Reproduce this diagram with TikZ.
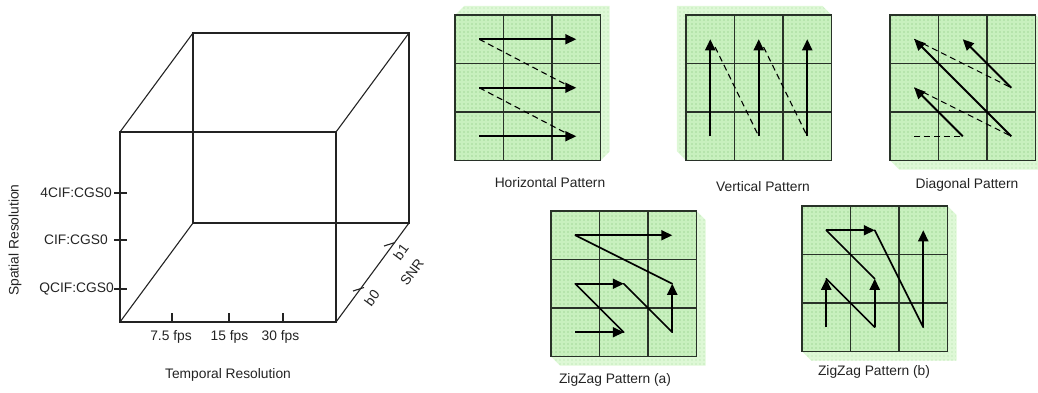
\documentclass[tikz,border=0pt]{standalone}
\usepackage{fontspec}
\setmainfont{Liberation Sans}
\usetikzlibrary{positioning,arrows.meta,patterns,calc}
\definecolor{cellgreen}{RGB}{200,240,190}
\definecolor{dotgreen}{RGB}{125,190,115}
\definecolor{shadegreen}{RGB}{222,248,214}
\definecolor{shadedot}{RGB}{170,220,160}
\definecolor{gridgray}{RGB}{40,50,40}
\definecolor{inkgray}{RGB}{35,35,35}
\pgfdeclarepatternformonly{greendots}{\pgfqpoint{-1pt}{-1pt}}{\pgfqpoint{1pt}{1pt}}{\pgfqpoint{4pt}{4pt}}{%
  \pgfpathcircle{\pgfqpoint{0pt}{0pt}}{0.65pt}\pgfusepath{fill}}
\tikzset{
  cube-edge/.style={draw=inkgray, line width=1.1pt},
  axis-tick/.style={draw=inkgray, line width=1.1pt},
  axis-label/.style={font=\fontsize{13.8}{16}\selectfont, text=inkgray, inner sep=1pt},
  pattern-title/.style={font=\fontsize{13.8}{16}\selectfont, text=inkgray, inner sep=1pt},
  cell-fill/.style={fill=cellgreen},
  cell-dots/.style={pattern=greendots, pattern color=dotgreen},
  shade-fill/.style={fill=shadegreen},
  shade-dots/.style={pattern=greendots, pattern color=shadedot},
  grid-line/.style={draw=gridgray, line width=1.5pt},
  scan-arrow/.style={-{Triangle[length=11pt, width=10pt]}, line width=2pt, draw=black},
  scan-jump/.style={dash pattern=on 6pt off 4pt, line width=1.1pt, draw=black},
  zig-line/.style={line width=1.7pt, draw=black, line cap=round}
}
% 3x3 block of cells, centres named <prefix>-<col>-<row>
\newcommand{\scangrid}[1]{%
  \fill[cell-fill] (0,0) rectangle (3,3);
  \fill[cell-dots] (0,0) rectangle (3,3);
  \foreach \k in {1,2} {
    \draw[grid-line] (\k,0) -- (\k,3);
    \draw[grid-line] (0,\k) -- (3,\k);
  }
  \draw[grid-line] (0,0) rectangle (3,3);
  \foreach \i in {0,1,2} \foreach \j in {0,1,2} \coordinate (#1-\i-\j) at (\i+.5,\j+.5);
}

\begin{document}
\begin{tikzpicture}[x=1pt, y=-1pt]
\useasboundingbox (0,0) rectangle (1038,392);

% Scalability cube
\coordinate (f-tl) at (120,132);
\coordinate (f-tr) at (336,132);
\coordinate (f-br) at (336,322);
\coordinate (f-bl) at (120,322);
\coordinate (b-tl) at (193,33);
\coordinate (b-tr) at (409,33);
\coordinate (b-br) at (409,223);
\coordinate (b-bl) at (193,223);
\draw[cube-edge] (b-tl) rectangle (b-br);
\draw[cube-edge] (f-tl) rectangle (f-br);
\draw[cube-edge] (f-tl) -- (b-tl);
\draw[cube-edge] (f-tr) -- (b-tr);
\draw[cube-edge] (f-br) -- (b-br);
\draw[cube-edge] (f-bl) -- (b-bl);

% spatial axis
\foreach \y/\xe/\id/\lbl in {193/113/fourcif/4CIF:CGS0, 240/109/cif/CIF:CGS0, 289/115/qcif/QCIF:CGS0} {
  \draw[axis-tick] (114,\y) -- (127,\y);
  \node[axis-label, anchor=east] (\id) at (\xe,\y) {\lbl};
}
\node[axis-label, rotate=90] (spatial) at (15,240) {Spatial Resolution};

% temporal axis
\foreach \x/\xl/\id/\lbl in {172/171/fps-a/7.5 fps, 229/229.5/fps-b/15 fps, 283/280.5/fps-c/30 fps} {
  \draw[axis-tick] (\x,313) -- (\x,322);
  \node[axis-label] (\id) at (\xl,337) {\lbl};
}
\node[axis-label] (temporal) at (228,375) {Temporal Resolution};

% SNR axis
\draw[axis-tick] (353,291) -- (364,287.5);
\draw[axis-tick] (384,246) -- (395,242.5);
\node[axis-label, rotate=53.6, inner sep=0pt] (snr-b0) at (372,298) {b0};
\node[axis-label, rotate=53.6, inner sep=0pt] (snr-b1) at (401,252) {b1};
\node[axis-label, rotate=53.6, inner sep=0pt] (snr) at (412,272) {SNR};

% Horizontal pattern
\begin{scope}[shift={(455,15)}, x=48.5pt, y=-48.5pt]
  \path[shade-fill] (0,0) -- (0.19,-0.19) -- (3.19,-0.19) -- (3.19,2.81) -- (3,3) -- (0,3) -- cycle;
  \path[shade-dots] (0,0) -- (0.19,-0.19) -- (3.19,-0.19) -- (3.19,2.81) -- (3,3) -- (0,3) -- cycle;
  \scangrid{h}
  \coordinate (h-jump1) at (2.32,1.45);
  \coordinate (h-jump2) at (2.32,2.45);
  \draw[scan-jump] (h-0-0) -- (h-jump1);
  \draw[scan-jump] (h-0-1) -- (h-jump2);
  \foreach \j in {0,1,2} \draw[scan-arrow] (h-0-\j) -- (h-2-\j);
\end{scope}
\node[pattern-title] (h-title) at (550,183) {Horizontal Pattern};

% Vertical pattern
\begin{scope}[shift={(686,15)}, x=48.5pt, y=-48.5pt]
  \path[shade-fill] (-0.19,-0.19) -- (2.81,-0.19) -- (3,0) -- (3,3) -- (0,3) -- (-0.19,2.81) -- cycle;
  \path[shade-dots] (-0.19,-0.19) -- (2.81,-0.19) -- (3,0) -- (3,3) -- (0,3) -- (-0.19,2.81) -- cycle;
  \scangrid{v}
  \coordinate (v-jump1) at (0.6,0.66);
  \coordinate (v-jump2) at (1.6,0.66);
  \draw[scan-jump] (v-jump1) -- (v-1-2);
  \draw[scan-jump] (v-jump2) -- (v-2-2);
  \foreach \i in {0,1,2} \draw[scan-arrow] (v-\i-2) -- (v-\i-0);
\end{scope}
\node[pattern-title] (v-title) at (763,187) {Vertical Pattern};

% Diagonal pattern
\begin{scope}[shift={(890,15)}, x=48.5pt, y=-48.5pt]
  \path[shade-fill] (0,0) -- (3,0) -- (3.19,0.19) -- (3.19,3.19) -- (0.19,3.19) -- (0,3) -- cycle;
  \path[shade-dots] (0,0) -- (3,0) -- (3.19,0.19) -- (3.19,3.19) -- (0.19,3.19) -- (0,3) -- cycle;
  \scangrid{d}
  \draw[scan-jump] (d-0-2) -- (d-1-2);
  \draw[scan-jump] (d-0-1) -- (d-2-2);
  \draw[scan-jump] (d-0-0) -- (d-2-1);
  \draw[scan-arrow] (d-1-2) -- (d-0-1);
  \draw[scan-arrow] (d-2-2) -- (d-0-0);
  \draw[scan-arrow] (d-2-1) -- (d-1-0);
\end{scope}
\node[pattern-title] (d-title) at (967,185) {Diagonal Pattern};

% ZigZag pattern (a)
\begin{scope}[shift={(551,211)}, x=48.5pt, y=-48.5pt]
  \path[shade-fill] (0,0) -- (3,0) -- (3.19,0.19) -- (3.19,3.19) -- (0.19,3.19) -- (0,3) -- cycle;
  \path[shade-dots] (0,0) -- (3,0) -- (3.19,0.19) -- (3.19,3.19) -- (0.19,3.19) -- (0,3) -- cycle;
  \scangrid{za}
  \draw[zig-line] (za-1-2) -- (za-0-1);
  \draw[zig-line] (za-1-1) -- (za-2-2);
  \draw[zig-line] (za-2-1) -- (za-0-0);
  \draw[scan-arrow] (za-0-2) -- (za-1-2);
  \draw[scan-arrow] (za-0-1) -- (za-1-1);
  \draw[scan-arrow] (za-2-2) -- (za-2-1);
  \draw[scan-arrow] (za-0-0) -- (za-2-0);
\end{scope}
\node[pattern-title] (za-title) at (615,380) {ZigZag Pattern (a)};

% ZigZag pattern (b)
\begin{scope}[shift={(802,206)}, x=48.5pt, y=-48.5pt]
  \path[shade-fill] (0,0) -- (3,0) -- (3.19,0.19) -- (3.19,3.19) -- (0.19,3.19) -- (0,3) -- cycle;
  \path[shade-dots] (0,0) -- (3,0) -- (3.19,0.19) -- (3.19,3.19) -- (0.19,3.19) -- (0,3) -- cycle;
  \scangrid{zb}
  \draw[zig-line] (zb-0-1) -- (zb-1-2);
  \draw[zig-line] (zb-1-1) -- (zb-0-0);
  \draw[zig-line] (zb-1-0) -- (zb-2-2);
  \draw[scan-arrow] (zb-0-2) -- (zb-0-1);
  \draw[scan-arrow] (zb-1-2) -- (zb-1-1);
  \draw[scan-arrow] (zb-0-0) -- (zb-1-0);
  \draw[scan-arrow] (zb-2-2) -- (zb-2-0);
\end{scope}
\node[pattern-title] (zb-title) at (874,372) {ZigZag Pattern (b)};
\end{tikzpicture}
\end{document}
